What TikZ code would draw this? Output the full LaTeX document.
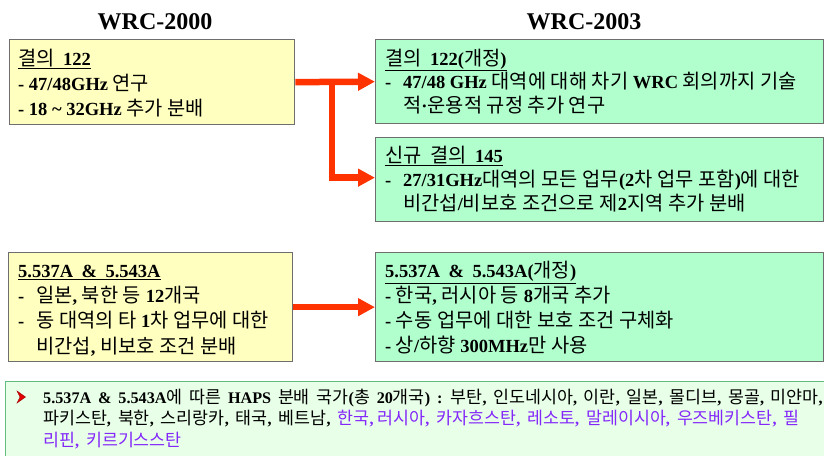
\documentclass[tikz,border=0pt]{standalone}
\usepackage{fontspec}
\setmainfont{Liberation Serif}
\newfontfamily\krfont{Noto Sans CJK KR}[Scale=1.07]
\usetikzlibrary{arrows.meta}
\newcount\krc
\newXeTeXintercharclass\KRclass
\krc="AC00
\loop\XeTeXcharclass\krc=\KRclass\relax\ifnum\krc<"D7A3 \advance\krc by 1 \repeat
\XeTeXinterchartoks 0 \KRclass = {\begingroup\krfont\mdseries}
\XeTeXinterchartoks 4095 \KRclass = {\begingroup\krfont\mdseries}
\XeTeXinterchartoks \KRclass 0 = {\endgroup}
\XeTeXinterchartoks \KRclass 4095 = {\endgroup}
\XeTeXinterchartokenstate=1
\newcommand\widesp[1]{\spaceskip=#1pt plus 2pt minus 1pt\relax}
\newcommand\cmsp{,\hspace{7pt}}
\definecolor{yfill}{RGB}{255,255,192}
\definecolor{gfill}{RGB}{178,255,206}
\definecolor{bfill}{RGB}{232,255,232}
\definecolor{bline}{RGB}{96,188,128}
\definecolor{boxline}{RGB}{110,110,110}
\definecolor{arrred}{RGB}{255,51,0}
\definecolor{kviolet}{RGB}{132,40,250}
\tikzset{
  ybox/.style={draw=boxline, line width=1.3pt, fill=yfill, inner sep=0pt, anchor=north west},
  gbox/.style={draw=boxline, line width=1.3pt, fill=gfill, inner sep=0pt, anchor=north west},
  botbox/.style={draw=bline, line width=1pt, fill=bfill, inner sep=0pt, anchor=north west},
  title/.style={anchor=base, inner sep=0pt, font=\bfseries\fontsize{24}{28}\selectfont},
  txt/.style={anchor=base west, inner sep=0pt, align=left, font=\bfseries\fontsize{18.5}{#1}\selectfont},
  redarrow/.style={draw=arrred, line width=6.5pt, -{Triangle[length=17pt,width=17pt]}},
}
\begin{document}
\begin{tikzpicture}[x=1pt,y=-1pt]
\useasboundingbox (0,0) rectangle (824,455);
\node[title] (t1) at (155,29) {WRC-2000};
\node[title] (t2) at (584,29) {WRC-2003};

\node[ybox, minimum width=285, minimum height=85] (y1) at (9,39) {};
\node[gbox, minimum width=448, minimum height=84] (g1) at (375,39) {};
\node[gbox, minimum width=448, minimum height=84] (g2) at (375,137) {};
\node[ybox, minimum width=284, minimum height=109] (y2) at (8,252) {};
\node[gbox, minimum width=448, minimum height=109] (g3) at (375,252) {};
\node[botbox, minimum width=840, minimum height=90] (bb) at (5,381) {};

\node[txt=25] (y1t) at (18,115) {\widesp{8.5}\underline{결의 122}\\- 47/48GHz 연구\\- 18 \textasciitilde{} 32GHz 추가 분배};
\node[txt=23.5] (g1t) at (385,112) {\widesp{8.5}\underline{결의 122(개정)}\\\makebox[18pt][l]{-}47/48 GHz 대역에 대해 차기 WRC 회의까지 기술\\\hspace*{18pt}적·운용적 규정 추가 연구};
\node[txt=24] (g2t) at (385,210) {\widesp{8.5}\underline{신규 결의 145}\\\makebox[18pt][l]{-}27/31GHz대역의 모든 업무(2차 업무 포함)에 대한\\\hspace*{18pt}비간섭/비보호 조건으로 제2지역 추가 분배};
\node[txt=25.3] (y2t) at (18,353) {\widesp{8.5}\underline{5.537A \& 5.543A}\\\makebox[18pt][l]{-}일본, 북한 등 12개국\\\makebox[18pt][l]{-}동 대역의 타 1차 업무에 대한\\\hspace*{18pt}비간섭, 비보호 조건 분배};
\node[txt=24.7] (g3t) at (385,352) {\widesp{8.5}\underline{5.537A \& 5.543A(개정)}\\- 한국, 러시아 등 8개국 추가\\- 수동 업무에 대한 보호 조건 구체화\\- 상/하향 300MHz만 사용};

\fill[red!90!black, draw=red!60!black, line width=0.4pt] (17,391) -- (25.5,397) -- (17,403) -- (20,397) -- cycle;
\node[anchor=base west, inner sep=0pt, align=left, font=\bfseries\fontsize{16.2}{21.5}\selectfont] (bt) at (43,446)
 {\widesp{6.8}5.537A \& 5.543A에 따른 HAPS 분배 국가(총 20개국) : 부탄, 인도네시아, 이란, 일본, 몰디브, 몽골, 미얀마,\\파키스탄\cmsp 북한\cmsp 스리랑카\cmsp 태국\cmsp 베트남\cmsp{\color{kviolet}한국, 러시아\cmsp 카자흐스탄\cmsp 레소토\cmsp 말레이시아\cmsp 우즈베키스탄\cmsp 필}\\{\color{kviolet}리핀\cmsp 키르기스스탄}};

\coordinate (j) at (332,81);
\draw[redarrow] (y1.east) -- (g1.west);
\draw[redarrow] (j) |- ([yshift=2pt]g2.west);
\draw[redarrow] (y2.east) -- (g3.west);
\end{tikzpicture}
\end{document}
